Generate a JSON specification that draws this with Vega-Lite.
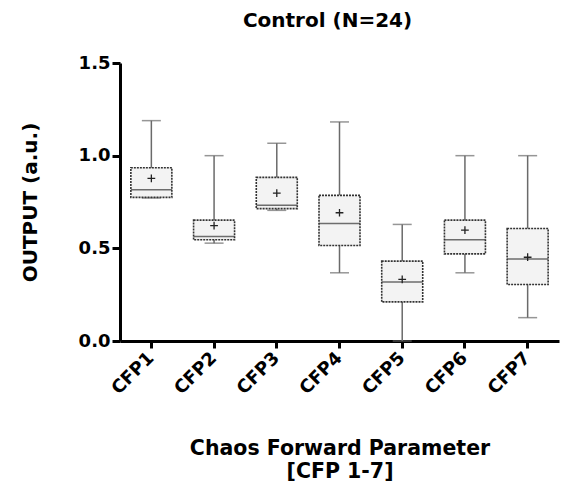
{
  "$schema": "https://vega.github.io/schema/vega-lite/v6.json",
  "autosize": {"type": "none"},
  "padding": {"left": 120, "top": 63, "right": 4, "bottom": 148},
  "width": 439,
  "height": 278,
  "background": "white",
  "title": {
    "text": "Control (N=24)",
    "font": "DejaVu Sans",
    "fontSize": 20,
    "fontWeight": "bold",
    "color": "black",
    "anchor": "middle",
    "frame": "group",
    "dx": -12,
    "offset": 23
  },
  "data": {
    "values": [
      {"cfp": "CFP1", "min": 0.772, "q1": 0.775, "median": 0.816, "q3": 0.935, "max": 1.189, "mean": 0.877},
      {"cfp": "CFP2", "min": 0.528, "q1": 0.546, "median": 0.564, "q3": 0.652, "max": 1.0, "mean": 0.622},
      {"cfp": "CFP3", "min": 0.705, "q1": 0.714, "median": 0.733, "q3": 0.883, "max": 1.067, "mean": 0.798},
      {"cfp": "CFP4", "min": 0.368, "q1": 0.515, "median": 0.634, "q3": 0.786, "max": 1.182, "mean": 0.692},
      {"cfp": "CFP5", "min": 0.0, "q1": 0.211, "median": 0.319, "q3": 0.431, "max": 0.629, "mean": 0.333},
      {"cfp": "CFP6", "min": 0.368, "q1": 0.47, "median": 0.546, "q3": 0.652, "max": 1.0, "mean": 0.598},
      {"cfp": "CFP7", "min": 0.126, "q1": 0.305, "median": 0.443, "q3": 0.607, "max": 1.0, "mean": 0.452}
    ]
  },
  "encoding": {
    "x": {
      "field": "cfp",
      "type": "nominal",
      "sort": null,
      "scale": {"type": "band", "paddingInner": 0, "paddingOuter": 0},
      "axis": {
        "title": ["Chaos Forward Parameter", "[CFP 1-7]"],
        "titleFont": "DejaVu Sans",
        "titleFontSize": 20.5,
        "titleFontWeight": "bold",
        "titleColor": "black",
        "titleBaseline": "top",
        "titleY": 97,
        "titleLineHeight": 23,
        "labelAngle": -45,
        "labelAlign": "right",
        "labelBaseline": "middle",
        "labelFont": "DejaVu Sans",
        "labelFontSize": 18,
        "labelFontWeight": "bold",
        "labelColor": "black",
        "labelPadding": 7,
        "domainColor": "black",
        "domainWidth": 3,
        "tickColor": "black",
        "tickWidth": 3,
        "tickSize": 7,
        "grid": false
      }
    }
  },
  "layer": [
    {
      "mark": {"type": "rule", "color": "#6a6a6a", "strokeWidth": 1.5},
      "encoding": {
        "y": {
          "field": "min",
          "type": "quantitative",
          "scale": {"domain": [0, 1.5], "nice": false, "zero": true},
          "axis": {
            "title": "OUTPUT (a.u.)",
            "titleFont": "DejaVu Sans",
            "titleFontSize": 20,
            "titleFontWeight": "bold",
            "titleColor": "black",
            "titleX": -80,
            "titleY": 139,
            "titleBaseline": "bottom",
            "values": [0, 0.5, 1, 1.5],
            "format": ".1f",
            "labelFont": "DejaVu Sans",
            "labelFontSize": 18,
            "labelFontWeight": "bold",
            "labelColor": "black",
            "labelPadding": 2,
            "domainColor": "black",
            "domainWidth": 3,
            "tickColor": "black",
            "tickWidth": 3,
            "tickSize": 8,
            "grid": false
          }
        },
        "y2": {"field": "max"}
      }
    },
    {
      "mark": {"type": "tick", "color": "#6a6a6a", "size": 19, "thickness": 1.5},
      "encoding": {"y": {"field": "min", "type": "quantitative"}}
    },
    {
      "mark": {"type": "tick", "color": "#6a6a6a", "size": 19, "thickness": 1.5},
      "encoding": {"y": {"field": "max", "type": "quantitative"}}
    },
    {
      "mark": {"type": "bar", "size": 41, "fill": "#f3f3f3", "stroke": "#333", "strokeWidth": 1.6, "strokeDash": [2, 1]},
      "encoding": {
        "y": {"field": "q1", "type": "quantitative"},
        "y2": {"field": "q3"}
      }
    },
    {
      "mark": {"type": "tick", "color": "#333", "size": 41, "thickness": 1.5},
      "encoding": {"y": {"field": "median", "type": "quantitative"}}
    },
    {
      "mark": {"type": "point", "shape": "M-1,0H1M0,-1V1", "size": 60, "stroke": "#222", "strokeWidth": 1.3, "filled": false, "opacity": 1},
      "encoding": {"y": {"field": "mean", "type": "quantitative"}}
    }
  ],
  "config": {"view": {"stroke": null}}
}
